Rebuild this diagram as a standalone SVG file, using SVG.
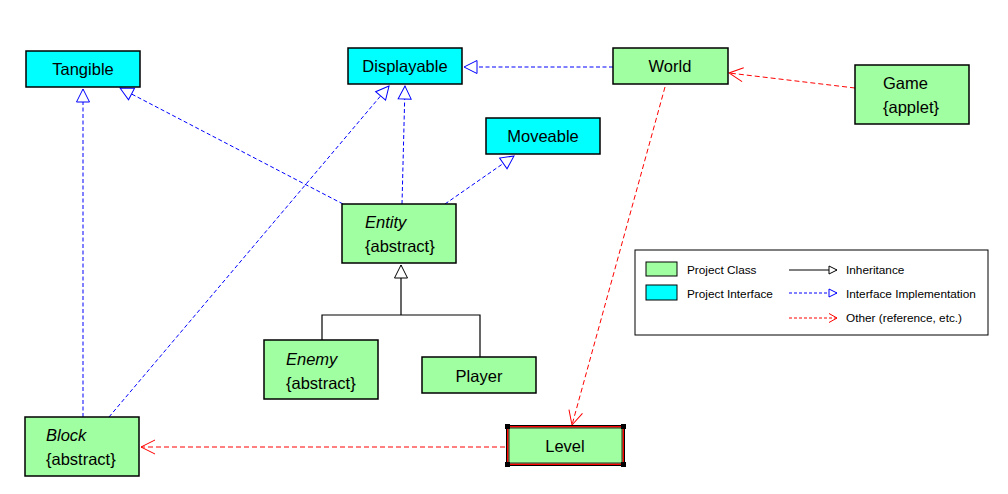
<svg xmlns="http://www.w3.org/2000/svg" width="1008" height="494" viewBox="0 0 1008 494">
<style>
.cls{fill:#A0FFA0;stroke:#000;stroke-width:1.5}
.ifc{fill:#00FFFF;stroke:#000;stroke-width:1.5}
text{font-family:"Liberation Sans",Arial,sans-serif;font-size:16.5px;fill:#000}
.c{text-anchor:middle}
.it{font-style:italic}
.lg{font-size:11.8px}
.impl{fill:none;stroke:#0000FF;stroke-width:1;stroke-dasharray:4 2.5}
.ref{fill:none;stroke:#FF0000;stroke-width:1;stroke-dasharray:5 3}
.inh{fill:none;stroke:#000;stroke-width:1.2}
</style>
<defs>
<marker id="tri" markerUnits="userSpaceOnUse" markerWidth="16" markerHeight="16" refX="13" refY="6.5" orient="auto" overflow="visible">
<path d="M13,6.5 L0,0 L0,13 Z" fill="#fff" stroke="#0000FF" stroke-width="1"/>
</marker>
<marker id="triK" markerUnits="userSpaceOnUse" markerWidth="16" markerHeight="16" refX="13" refY="6.5" orient="auto" overflow="visible">
<path d="M13,6.5 L0,0 L0,13 Z" fill="#fff" stroke="#000" stroke-width="1"/>
</marker>
<marker id="open" markerUnits="userSpaceOnUse" markerWidth="16" markerHeight="16" refX="14" refY="7" orient="auto" overflow="visible">
<path d="M0,0 L14,7 L0,14" fill="none" stroke="#FF0000" stroke-width="1"/>
</marker>
<marker id="sTriK" markerUnits="userSpaceOnUse" markerWidth="10" markerHeight="10" refX="8" refY="4" orient="auto" overflow="visible">
<path d="M8,4 L0,0 L0,8 Z" fill="#fff" stroke="#000" stroke-width="1"/>
</marker>
<marker id="sTri" markerUnits="userSpaceOnUse" markerWidth="10" markerHeight="10" refX="8" refY="4" orient="auto" overflow="visible">
<path d="M8,4 L0,0 L0,8 Z" fill="#fff" stroke="#0000FF" stroke-width="1"/>
</marker>
<marker id="sOpen" markerUnits="userSpaceOnUse" markerWidth="10" markerHeight="10" refX="8" refY="4.5" orient="auto" overflow="visible">
<path d="M0,0 L8,4.5 L0,9" fill="none" stroke="#FF0000" stroke-width="1"/>
</marker>
</defs>
<rect width="1008" height="494" fill="#fff"/>

<g id="connectors">
<line class="impl" x1="613" y1="67" x2="464" y2="67" marker-end="url(#tri)"/>
<line class="impl" x1="343" y1="204" x2="120" y2="88" marker-end="url(#tri)"/>
<line class="impl" x1="402" y1="204" x2="405" y2="86" marker-end="url(#tri)"/>
<line class="impl" x1="109" y1="417" x2="389" y2="86" marker-end="url(#tri)"/>
<line class="impl" x1="445" y1="204" x2="514" y2="156" marker-end="url(#tri)"/>
<line class="impl" x1="83" y1="417" x2="83" y2="89" marker-end="url(#tri)"/>
<line class="ref" x1="855" y1="88" x2="729" y2="73" marker-end="url(#open)"/>
<line class="ref" x1="665" y1="87" x2="572" y2="425" marker-end="url(#open)"/>
<line class="ref" x1="505" y1="447" x2="141" y2="447" marker-end="url(#open)"/>
<polyline class="inh" points="322,340 322,315 480,315 480,357"/>
<line class="inh" x1="401" y1="315" x2="401" y2="265" marker-end="url(#triK)"/>
</g>

<g id="Tangible">
<rect class="ifc" x="26" y="51" width="114" height="36"/>
<text class="c" x="83" y="75">Tangible</text>
</g>
<g id="Displayable">
<rect class="ifc" x="348" y="48" width="114" height="36"/>
<text class="c" x="405" y="72">Displayable</text>
</g>
<g id="World">
<rect class="cls" x="613" y="48" width="115" height="36"/>
<text class="c" x="670" y="72">World</text>
</g>
<g id="Game">
<rect class="cls" x="855" y="65" width="114" height="59"/>
<text x="883" y="89">Game</text>
<text x="883" y="113">{applet}</text>
</g>
<g id="Moveable">
<rect class="ifc" x="486" y="118" width="114" height="36"/>
<text class="c" x="543" y="142">Moveable</text>
</g>
<g id="Entity">
<rect class="cls" x="342" y="204" width="114" height="59"/>
<text class="it" x="365" y="228">Entity</text>
<text x="365" y="252">{abstract}</text>
</g>
<g id="Enemy">
<rect class="cls" x="264" y="340" width="114" height="59"/>
<text class="it" x="286" y="365">Enemy</text>
<text x="286" y="389">{abstract}</text>
</g>
<g id="Player">
<rect class="cls" x="422" y="357" width="114" height="36"/>
<text class="c" x="479" y="382">Player</text>
</g>
<g id="Block">
<rect class="cls" x="25" y="417" width="114" height="59"/>
<text class="it" x="46" y="441">Block</text>
<text x="46" y="465">{abstract}</text>
</g>
<g id="Level">
<rect x="506.5" y="425.5" width="118" height="40" fill="#A0FFA0" stroke="#000" stroke-width="1"/>
<rect x="507.75" y="426.75" width="115.5" height="37.5" fill="none" stroke="#FF0000" stroke-width="1.5"/>
<rect x="509" y="428" width="113" height="35" fill="none" stroke="#000" stroke-width="0.8"/>
<rect x="505" y="424" width="5" height="5" fill="#000"/>
<rect x="621" y="424" width="5" height="5" fill="#000"/>
<rect x="505" y="462" width="5" height="5" fill="#000"/>
<rect x="621" y="462" width="5" height="5" fill="#000"/>
<text class="c" x="565" y="452">Level</text>
</g>

<g id="legend">
<rect x="635" y="250" width="353" height="85" fill="#fff" stroke="#000" stroke-width="1"/>
<rect x="646" y="262" width="31" height="14" fill="#A0FFA0" stroke="#000" stroke-width="1"/>
<rect x="646" y="285" width="31" height="15" fill="#00FFFF" stroke="#000" stroke-width="1"/>
<text class="lg" x="687" y="274">Project Class</text>
<text class="lg" x="687" y="298">Project Interface</text>
<line x1="789" y1="270" x2="837" y2="270" stroke="#000" stroke-width="1" marker-end="url(#sTriK)"/>
<line x1="789" y1="293" x2="837" y2="293" stroke="#0000FF" stroke-width="1" stroke-dasharray="3 2" marker-end="url(#sTri)"/>
<line x1="789" y1="318" x2="837" y2="318" stroke="#FF0000" stroke-width="1" stroke-dasharray="3 2" marker-end="url(#sOpen)"/>
<text class="lg" x="846" y="274">Inheritance</text>
<text class="lg" x="846" y="298">Interface Implementation</text>
<text class="lg" x="846" y="322">Other (reference, etc.)</text>
</g>
</svg>
